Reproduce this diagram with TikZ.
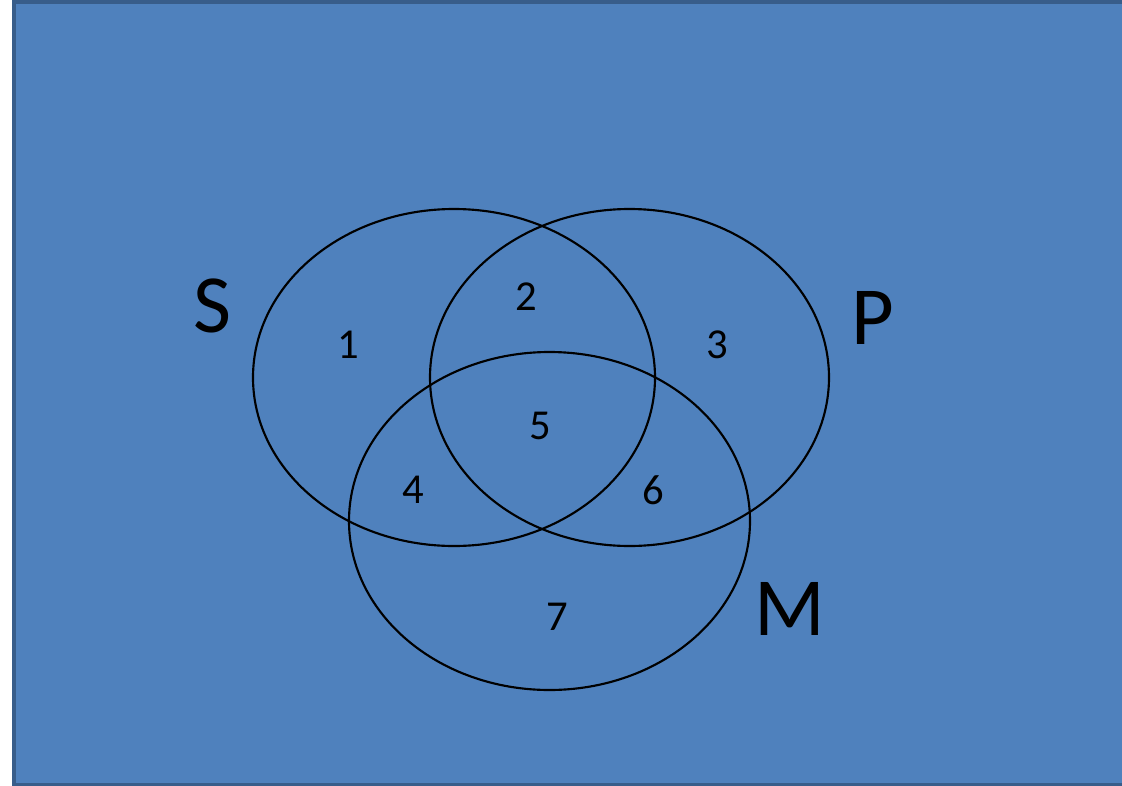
\documentclass[tikz,border=0pt]{standalone}
\usepackage{fontspec}
\setmainfont{Carlito}
\definecolor{bgfill}{HTML}{4F81BD}
\definecolor{bgline}{HTML}{385D8A}
\tikzset{
  venn/.style={draw=black, line width=1.6pt},
  big/.style={font=\fontsize{62}{62}\selectfont, inner sep=0pt},
  num/.style={font=\fontsize{32}{32}\selectfont, inner sep=0pt}
}
\begin{document}
\begin{tikzpicture}[x=0.75pt,y=-0.75pt]
\useasboundingbox (0,0) rectangle (1122,786);
\fill[white] (0,0) rectangle (1122,786);
\draw[fill=bgfill, draw=bgline, line width=3pt] (13.5,1.5) rectangle (1150,784.5);
\draw[venn] (454,377.5) ellipse [x radius=201, y radius=168.5];
\draw[venn] (629.5,377.5) ellipse [x radius=199.5, y radius=168.5];
\draw[venn] (549.5,521) ellipse [x radius=200.5, y radius=169];
\node[big] (S) at (212,306) {S};
\node[big] (P) at (873,318) {P};
\node[big] (M) at (790,609) {M};
\node[num] (n1) at (348,345) {1};
\node[num] (n2) at (526,297) {2};
\node[num] (n3) at (717,345) {3};
\node[num] (n5) at (540,426) {5};
\node[num] (n4) at (413,490) {4};
\node[num] (n6) at (653,490) {6};
\node[num] (n7) at (557,617) {7};
\end{tikzpicture}
\end{document}
